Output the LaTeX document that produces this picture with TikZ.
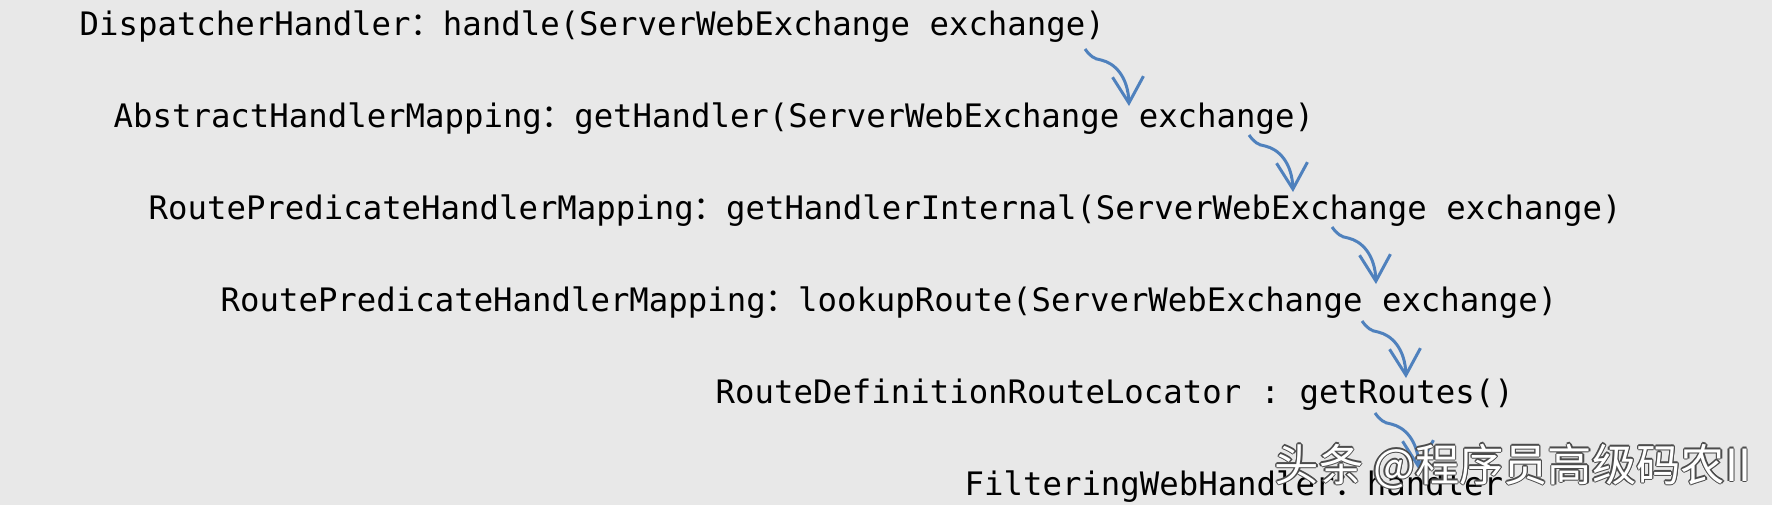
\documentclass[tikz,border=0pt]{standalone}
\usepackage{fontspec}
\setmonofont{DejaVu Sans Mono}
\newfontfamily\cjk{Noto Sans CJK SC}
\usepackage{tikz}
\usetikzlibrary{arrows.meta, backgrounds, positioning}
\definecolor{callblue}{RGB}{79,129,189}
\definecolor{pagegray}{RGB}{232,232,232}
\newcommand{\zcolon}{{\cjk ：}}
\tikzset{>={Straight Barb[length=7.5pt,width=8.8pt]}}

\begin{document}
\begin{tikzpicture}[
    call/.style={anchor=base west, inner sep=0pt, font=\fontsize{9.2}{11}\selectfont\ttfamily},
    flow/.style={->, draw=callblue, line width=0.85pt},
    wmtext/.style={anchor=base west, inner sep=0pt, font=\fontsize{12.6}{14}\selectfont\cjk}
]
    \useasboundingbox (0,0) rectangle (17.72,-5.05);
    \fill[pagegray] (0,0) rectangle (17.72,-5.05);
    \node[call] (dispatch) at (0.79,-0.35) {DispatcherHandler\zcolon handle(ServerWebExchange exchange)};
    \node[call] (abstract) at (1.13,-1.27) {AbstractHandlerMapping\zcolon getHandler(ServerWebExchange exchange)};
    \node[call] (internal) at (1.48,-2.19) {RoutePredicateHandlerMapping\zcolon getHandlerInternal(ServerWebExchange exchange)};
    \node[call] (lookup) at (2.20,-3.11) {RoutePredicateHandlerMapping\zcolon lookupRoute(ServerWebExchange exchange)};
    \node[call] (locator) at (7.15,-4.03) {RouteDefinitionRouteLocator : getRoutes()};
    \node[call] (filtering) at (9.64,-4.95) {FilteringWebHandler\zcolon handler};
    \foreach \i/\sx/\sy in {1/10.85/-0.49, 2/12.49/-1.35, 3/13.32/-2.27, 4/13.62/-3.21, 5/13.75/-4.13}
    {
        \coordinate (s\i) at (\sx,\sy);
        \coordinate (e\i) at (\sx+0.44,\sy-0.57);
        \draw[flow] (s\i) .. controls ([shift={(0.05,-0.07)}]s\i) and ([shift={(0.09,-0.10)}]s\i) .. ([shift={(0.16,-0.11)}]s\i)
            .. controls ([shift={(0.30,-0.14)}]s\i) and ([shift={(-0.01,0.29)}]e\i) .. (e\i);
    }
    \foreach \dx/\dy [count=\k] in {0.013/0, -0.013/0, 0/0.013, 0/-0.013, 0.009/0.009, -0.009/0.009, 0.009/-0.009, -0.009/-0.009}
    {
        \node[wmtext, text=black!70] (wmedge\k) at (12.74+\dx,-4.81+\dy) {头条 @程序员高级码农II};
    }
    \node[wmtext, text=white] (wm) at (12.74,-4.81) {头条 @程序员高级码农II};
\end{tikzpicture}
\end{document}
